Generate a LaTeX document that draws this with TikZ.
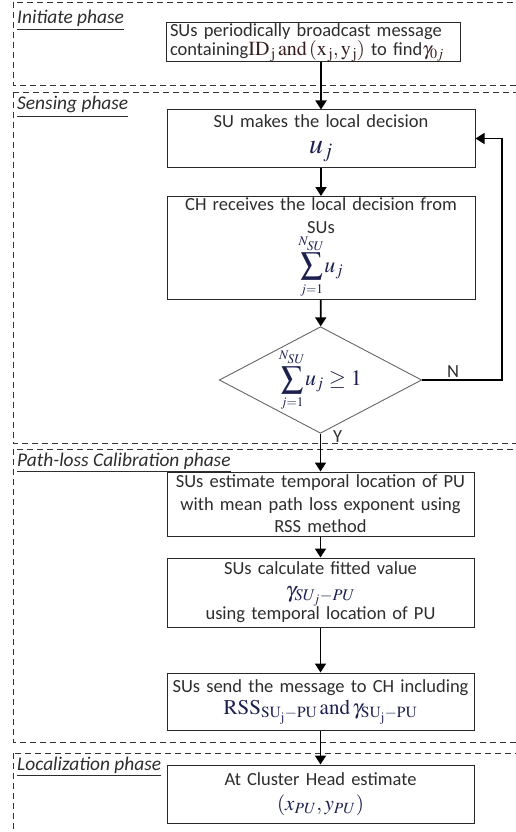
\documentclass[tikz,border=0pt]{standalone}
\usepackage{mathptmx}
\usepackage{fontspec}
\setmainfont{Carlito}
\usetikzlibrary{arrows.meta,shapes.geometric}
\definecolor{txt}{RGB}{45,45,45}
\definecolor{mth}{RGB}{28,32,78}
\definecolor{mthb}{RGB}{55,30,28}
\definecolor{edge}{RGB}{40,40,40}
\tikzset{
  phase/.style={draw=black!80, line width=0.8pt, dash pattern=on 6pt off 4pt},
  phaselabel/.style={anchor=base west, inner sep=0pt, text=txt, font=\fontsize{19.4}{21}\selectfont\itshape},
  stepbox/.style={draw=edge, line width=1pt, inner xsep=4pt, inner ysep=0pt, align=center,
    text=txt, font=\fontsize{18.5}{22.5}\selectfont},
  decision/.style={diamond, draw=black!60, line width=0.9pt, inner sep=0pt, aspect=1.9,
    minimum width=195pt, minimum height=102pt},
  arr/.style={line width=1.8pt, draw=black, -{Triangle[width=11pt,length=9pt]}},
  loop/.style={line width=1.4pt, draw=black, -{Triangle[width=11pt,length=9pt]}},
  tag/.style={inner sep=0pt, text=txt, font=\fontsize{18.5}{20}\selectfont}
}
% math set in a larger Times-like face
\newcommand{\eqtxt}[2][21]{{\fontsize{#1}{#1}\selectfont\textcolor{mth}{$#2$}}}
% sum over the cluster members, with small limits
\newcommand{\sumSU}{\displaystyle\sum_{\scriptscriptstyle j=1}^{\scriptscriptstyle N_{SU}}\! u_j}
\begin{document}
\begin{tikzpicture}[x=1pt,y=-1pt]
\useasboundingbox (0,0) rectangle (516,832);
\begin{scope}
\clip (0,0) rectangle (516,832);
% phase frames, open on the right
\draw[phase] (13,2) rectangle (530,85);
\draw[phase] (13,92) rectangle (530,443);
\draw[phase] (13,449) rectangle (530,742);
\draw[phase] (13,753) rectangle (530,850);
\end{scope}

\node[phaselabel] (l1) at (17,24) {\underline{Initiate phase}};
\node[phaselabel] (l2) at (17,110) {\underline{Sensing phase}};
\node[phaselabel] (l3) at (17,466) {\underline{Path-loss Calibration phase}};
\node[phaselabel] (l4) at (17,770) {\underline{Localization phase}};

% process steps
\node[stepbox, text width=286pt, minimum height=39pt, font=\fontsize{18.5}{17}\selectfont] (b1) at (313,42.5)
  {\makebox[286pt][s]{SUs periodically broadcast message}\\
   \makebox[286pt][s]{containing{\fontsize{20}{20}\selectfont\textcolor{mthb}{$\mathrm{ID}_{\,\mathrm{j}}\,\mathrm{and}\,(\mathrm{x}_{\,\mathrm{j}},\mathrm{y}_{\,\mathrm{j}})$}} to find{\fontsize{19}{19}\selectfont\textcolor{mthb}{$\gamma_{0j}$}}}};

\node[stepbox, text width=300pt, minimum height=57pt] (b2) at (321,138.5)
  {SU makes the local decision\\[3pt] \eqtxt[28]{u_j}};

\node[stepbox, text width=300pt, minimum height=103pt] (b3) at (321,248)
  {CH receives the local decision from\\ SUs\\[1pt] \eqtxt[22]{\sumSU}};

\node[decision] (d) at (320.5,380) {\eqtxt[22]{\sumSU \ge 1}};

\node[stepbox, text width=299pt, minimum height=64pt] (b4) at (320.5,504)
  {SUs estimate temporal location of PU\\ with mean path loss exponent using\\ RSS method};

\node[stepbox, text width=299pt, minimum height=69pt] (b5) at (320.5,592.5)
  {SUs calculate fitted value\\ \eqtxt[22]{\gamma_{SU_j-PU}}\\ using temporal location of PU};

\node[stepbox, text width=299pt, minimum height=57pt] (b6) at (320.5,701.5)
  {SUs send the message to CH including\\ \eqtxt[21]{\mathrm{RSS}_{\mathrm{SU_j-PU}}\,\mathrm{and}\,\gamma_{\mathrm{SU_j-PU}}}};

\node[stepbox, text width=299pt, minimum height=58pt] (b7) at (320.5,794)
  {At Cluster Head estimate\\[3pt] \eqtxt[21]{(x_{PU},y_{PU})}};

% flow
\draw[arr] (b1.south -| b2.north) -- (b2.north);
\draw[arr] (b2) -- (b3);
\draw[arr] (b3) -- (d);
\draw[arr] (d.south) -- (b4.north);
\draw[arr] (b4) -- (b5);
\draw[arr] (b5) -- (b6);
\draw[arr] (b6) -- (b7);
\coordinate (r) at (502,380);
\draw[loop] (d.east) -- (r) |- (b2.east);

\node[tag, anchor=base west] (n) at (447,377) {N};
\node[tag, anchor=base west] (y) at (333,442) {Y};
\end{tikzpicture}
\end{document}
